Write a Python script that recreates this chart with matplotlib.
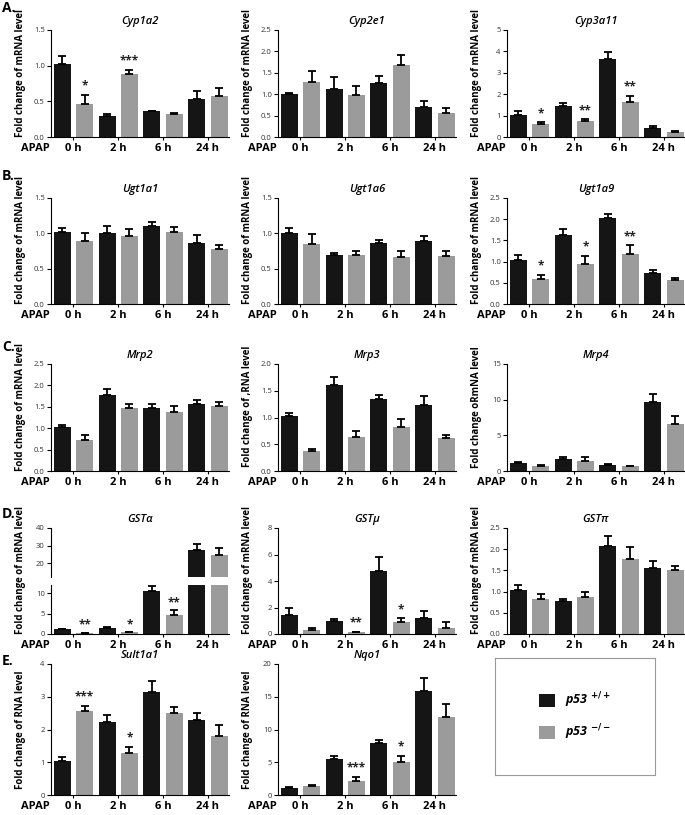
import numpy as np
import matplotlib.pyplot as plt
from matplotlib import transforms
from matplotlib.patches import Patch

plt.rcParams['font.family'] = ['Open Sans', 'DejaVu Sans']
plt.rcParams['mathtext.default'] = 'bf'

times = ['0 h', '2 h', '6 h', '24 h']
black = '#151515'
grey = '#9b9b9b'

# p53+/+ (wt) and p53-/- (ko) means and SEM
cyp1a2_wt = [1.03, 0.30, 0.36, 0.53]
cyp1a2_wt_err = [0.11, 0.02, 0.01, 0.12]
cyp1a2_ko = [0.46, 0.88, 0.32, 0.58]
cyp1a2_ko_err = [0.13, 0.06, 0.02, 0.11]
cyp1a2_stars = ['*', '***', '', '']

cyp2e1_wt = [1.01, 1.13, 1.27, 0.70]
cyp2e1_wt_err = [0.02, 0.28, 0.16, 0.14]
cyp2e1_ko = [1.29, 0.98, 1.69, 0.57]
cyp2e1_ko_err = [0.25, 0.20, 0.23, 0.11]

cyp3a11_wt = [1.05, 1.45, 3.63, 0.44]
cyp3a11_wt_err = [0.16, 0.15, 0.35, 0.08]
cyp3a11_ko = [0.63, 0.77, 1.62, 0.24]
cyp3a11_ko_err = [0.05, 0.05, 0.30, 0.03]
cyp3a11_stars = ['*', '**', '**', '']

ugt1a1_wt = [1.02, 1.00, 1.10, 0.86]
ugt1a1_wt_err = [0.06, 0.10, 0.06, 0.11]
ugt1a1_ko = [0.89, 0.96, 1.02, 0.78]
ugt1a1_ko_err = [0.11, 0.10, 0.07, 0.06]

ugt1a6_wt = [1.01, 0.69, 0.87, 0.89]
ugt1a6_wt_err = [0.06, 0.03, 0.04, 0.07]
ugt1a6_ko = [0.85, 0.70, 0.67, 0.68]
ugt1a6_ko_err = [0.14, 0.05, 0.08, 0.07]

ugt1a9_wt = [1.04, 1.63, 2.03, 0.73]
ugt1a9_wt_err = [0.11, 0.14, 0.09, 0.07]
ugt1a9_ko = [0.60, 0.95, 1.19, 0.56]
ugt1a9_ko_err = [0.09, 0.19, 0.19, 0.05]
ugt1a9_stars = ['*', '*', '**', '']

mrp2_wt = [1.02, 1.78, 1.47, 1.56]
mrp2_wt_err = [0.06, 0.13, 0.09, 0.11]
mrp2_ko = [0.73, 1.48, 1.39, 1.53]
mrp2_ko_err = [0.11, 0.08, 0.13, 0.09]

mrp3_wt = [1.02, 1.61, 1.35, 1.23]
mrp3_wt_err = [0.07, 0.15, 0.07, 0.18]
mrp3_ko = [0.38, 0.64, 0.83, 0.62]
mrp3_ko_err = [0.04, 0.11, 0.14, 0.06]

mrp4_wt = [1.08, 1.70, 0.85, 9.67]
mrp4_wt_err = [0.15, 0.28, 0.10, 1.18]
mrp4_ko = [0.75, 1.46, 0.70, 6.56]
mrp4_ko_err = [0.15, 0.47, 0.05, 1.22]

gsta_wt = [1.2, 1.55, 10.6, 27.6]
gsta_wt_err = [0.1, 0.2, 1.1, 3.4]
gsta_ko = [0.3, 0.4, 4.7, 24.4]
gsta_ko_err = [0.05, 0.1, 1.2, 4.2]
gsta_stars = ['**', '*', '**', '']

gstm_wt = [1.45, 1.00, 4.74, 1.20]
gstm_wt_err = [0.53, 0.15, 1.07, 0.55]
gstm_ko = [0.30, 0.13, 0.88, 0.48]
gstm_ko_err = [0.18, 0.05, 0.30, 0.40]
gstm_stars = ['', '**', '*', '']

gstp_wt = [1.04, 0.79, 2.08, 1.55]
gstp_wt_err = [0.11, 0.03, 0.24, 0.18]
gstp_ko = [0.82, 0.88, 1.78, 1.52]
gstp_ko_err = [0.13, 0.11, 0.28, 0.08]

sult1a1_wt = [1.04, 2.23, 3.15, 2.29]
sult1a1_wt_err = [0.12, 0.21, 0.33, 0.21]
sult1a1_ko = [2.56, 1.28, 2.50, 1.80]
sult1a1_ko_err = [0.16, 0.19, 0.19, 0.34]
sult1a1_stars = ['***', '*', '', '']

nqo1_wt = [1.07, 5.5, 7.9, 15.9]
nqo1_wt_err = [0.1, 0.45, 0.5, 2.0]
nqo1_ko = [1.37, 2.1, 5.0, 11.9]
nqo1_ko_err = [0.1, 0.6, 0.9, 2.0]
nqo1_stars = ['', '***', '*', '']

W, H = 685, 815
fig = plt.figure(figsize=(W / 100, H / 100), dpi=100)


def px_rect(left, top, right, bottom):
    return [left / W, 1 - bottom / H, (right - left) / W, (bottom - top) / H]


cols = [(51, 229), (278, 456), (507, 685)]
rows = [(30, 137), (198, 304), (364, 471), (528, 634), (664, 795)]
x = np.arange(4)


def draw_bars(ax, wt, wt_err, ko, ko_err, stars, ylim):
    wt, wt_err, ko, ko_err = map(np.asarray, (wt, wt_err, ko, ko_err))
    ax.bar(x - 0.25, wt, 0.38, color=black)
    ax.bar(x + 0.25, ko, 0.38, color=grey)
    for xs, v, e in [(x - 0.25, wt, wt_err), (x + 0.25, ko, ko_err)]:
        keep = v > ylim[0]
        ax.errorbar(xs[keep], v[keep], yerr=[np.zeros(keep.sum()), e[keep]], fmt='none',
                    ecolor='black', elinewidth=1.3, capsize=2.8, capthick=1.3)
    if stars:
        for i, s in enumerate(stars):
            if s:
                top = ko[i] + ko_err[i]
                ax.text(x[i] + 0.25, top + 0.02 * (ylim[1] - ylim[0]), s, ha='center',
                        va='bottom', fontsize=8.5, fontweight='bold', color='#222222')
    ax.set_xlim(-0.5, 3.47)
    ax.set_ylim(*ylim)
    for s in ['top', 'right']:
        ax.spines[s].set_visible(False)
    ax.tick_params(axis='y', labelsize=5.5, length=3, width=0.8, pad=1.5, labelcolor='#333333')
    ax.tick_params(axis='x', length=2, width=0.8, pad=2)


def style_x(ax):
    ax.set_xticks(x)
    ax.set_xticklabels(times, fontsize=8, fontweight='bold')
    off = transforms.offset_copy(ax.transAxes, fig=fig, x=-1, y=-4, units='points')
    ax.text(0, 0, 'APAP', transform=off, ha='right', va='top', fontsize=8, fontweight='bold')


def set_yticks(ax, ticks):
    ax.set_yticks(ticks)
    if all(float(t).is_integer() for t in ticks):
        ax.set_yticklabels(['%d' % t for t in ticks])
    else:
        ax.set_yticklabels(['%.1f' % t for t in ticks])


def panel(r, c, title, ylabel, wt, wt_err, ko, ko_err, ylim, ticks, stars=None):
    ax = fig.add_axes(px_rect(cols[c][0], rows[r][0], cols[c][1], rows[r][1]))
    draw_bars(ax, wt, wt_err, ko, ko_err, stars, ylim)
    set_yticks(ax, ticks)
    style_x(ax)
    ax.set_title(title, fontsize=8, fontstyle='italic', fontweight='semibold', pad=4)
    ax.set_ylabel(ylabel, fontsize=7, fontweight='bold')
    ax.yaxis.set_label_coords(-0.14, 0.5 if r == 4 else 0.6)
    return ax


lab = 'Fold change of mRNA level'
panel(0, 0, 'Cyp1a2', lab, cyp1a2_wt, cyp1a2_wt_err, cyp1a2_ko, cyp1a2_ko_err,
      (0, 1.5), [0, 0.5, 1.0, 1.5], cyp1a2_stars)
panel(0, 1, 'Cyp2e1', lab, cyp2e1_wt, cyp2e1_wt_err, cyp2e1_ko, cyp2e1_ko_err,
      (0, 2.5), [0, 0.5, 1.0, 1.5, 2.0, 2.5])
panel(0, 2, 'Cyp3a11', lab, cyp3a11_wt, cyp3a11_wt_err, cyp3a11_ko, cyp3a11_ko_err,
      (0, 5), [0, 1, 2, 3, 4, 5], cyp3a11_stars)

panel(1, 0, 'Ugt1a1', lab, ugt1a1_wt, ugt1a1_wt_err, ugt1a1_ko, ugt1a1_ko_err,
      (0, 1.5), [0, 0.5, 1.0, 1.5])
panel(1, 1, 'Ugt1a6', lab, ugt1a6_wt, ugt1a6_wt_err, ugt1a6_ko, ugt1a6_ko_err,
      (0, 1.5), [0, 0.5, 1.0, 1.5])
panel(1, 2, 'Ugt1a9', lab, ugt1a9_wt, ugt1a9_wt_err, ugt1a9_ko, ugt1a9_ko_err,
      (0, 2.5), [0, 0.5, 1.0, 1.5, 2.0, 2.5], ugt1a9_stars)

panel(2, 0, 'Mrp2', lab, mrp2_wt, mrp2_wt_err, mrp2_ko, mrp2_ko_err,
      (0, 2.5), [0, 0.5, 1.0, 1.5, 2.0, 2.5])
panel(2, 1, 'Mrp3', 'Fold change of ,RNA level', mrp3_wt, mrp3_wt_err, mrp3_ko, mrp3_ko_err,
      (0, 2.0), [0, 0.5, 1.0, 1.5, 2.0])
panel(2, 2, 'Mrp4', 'Fold change oRmNA level', mrp4_wt, mrp4_wt_err, mrp4_ko, mrp4_ko_err,
      (0, 15), [0, 5, 10, 15])

# GSTa with broken y axis
ax_hi = fig.add_axes(px_rect(cols[0][0], 528, cols[0][1], 577))
ax_lo = fig.add_axes(px_rect(cols[0][0], 585, cols[0][1], 634))
draw_bars(ax_hi, gsta_wt, gsta_wt_err, gsta_ko, gsta_ko_err, None, (12, 40))
draw_bars(ax_lo, gsta_wt, gsta_wt_err, gsta_ko, gsta_ko_err, gsta_stars, (0, 12))
set_yticks(ax_hi, [20, 30, 40])
set_yticks(ax_lo, [0, 5, 10])
ax_hi.spines['bottom'].set_visible(False)
ax_hi.set_xticks([])
ax_hi.set_title('GST\u03b1', fontsize=8, fontstyle='italic', fontweight='semibold', pad=4)
style_x(ax_lo)
ax_lo.set_ylabel(lab, fontsize=7, fontweight='bold')
ax_lo.yaxis.set_label_coords(-0.14, 1.3)

panel(3, 1, 'GST\u03bc', lab, gstm_wt, gstm_wt_err, gstm_ko, gstm_ko_err,
      (0, 8), [0, 2, 4, 6, 8], gstm_stars)
panel(3, 2, 'GST\u03c0', lab, gstp_wt, gstp_wt_err, gstp_ko, gstp_ko_err,
      (0, 2.5), [0, 0.5, 1.0, 1.5, 2.0, 2.5])

lab2 = 'Fold change of RNA level'
panel(4, 0, 'Sult1a1', lab2, sult1a1_wt, sult1a1_wt_err, sult1a1_ko, sult1a1_ko_err,
      (0, 4), [0, 1, 2, 3, 4], sult1a1_stars)
panel(4, 1, 'Nqo1', lab2, nqo1_wt, nqo1_wt_err, nqo1_ko, nqo1_ko_err,
      (0, 20), [0, 5, 10, 15, 20], nqo1_stars)

# legend box
leg_ax = fig.add_axes(px_rect(495, 658, 655, 775))
leg_ax.set_xticks([])
leg_ax.set_yticks([])
for s in leg_ax.spines.values():
    s.set_color('#999999')
    s.set_linewidth(0.8)
leg_ax.legend([Patch(facecolor=black), Patch(facecolor=grey)],
              ['p53 $^{+/+}$', 'p53 $^{-/-}$'], loc='center', frameon=False,
              prop=dict(weight='bold', style='italic', size=9),
              handlelength=1.3, handleheight=1.3, labelspacing=1.0, handletextpad=0.8)

# panel letters
for letter, ypx in zip(['A.', 'B.', 'C.', 'D.', 'E.'], [8, 176, 347, 514, 661]):
    fig.text(2 / W, 1 - ypx / H, letter, fontsize=10, fontweight='bold', va='center')

fig.savefig('out.png', dpi=100)
